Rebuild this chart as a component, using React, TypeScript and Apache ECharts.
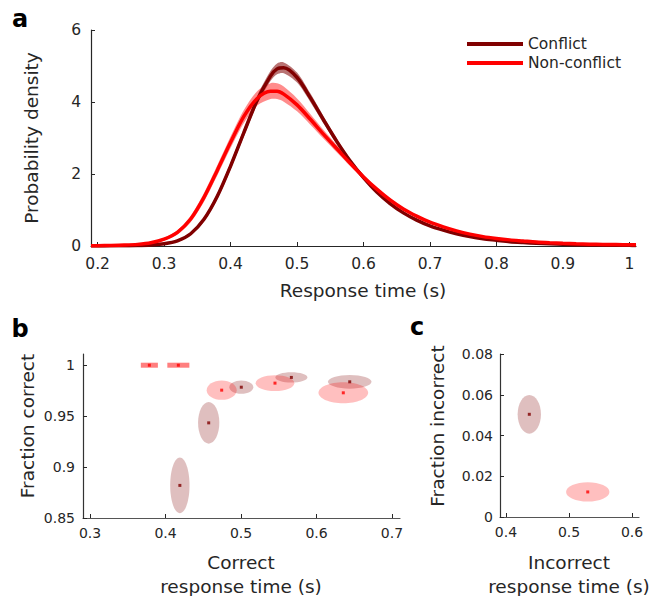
import React, { useEffect, useRef } from "react";
import * as echarts from "echarts";

// ---------- Panel a: response-time densities ----------
const rtGrid = [
  0.19, 0.2, 0.22, 0.24, 0.26, 0.28, 0.3, 0.32, 0.34, 0.36, 0.38, 0.4, 0.42, 0.44, 0.46, 0.47,
  0.48, 0.5, 0.52, 0.54, 0.56, 0.58, 0.6, 0.62, 0.64, 0.66, 0.68, 0.7, 0.72, 0.74, 0.76, 0.78,
  0.8, 0.82, 0.84, 0.86, 0.88, 0.9, 0.92, 0.94, 0.96, 0.98, 1.0, 1.01,
];
const conflictDensity = [
  0, 0.002, 0.004, 0.008, 0.015, 0.03, 0.06, 0.14, 0.34, 0.74, 1.38, 2.22, 3.15, 4.05, 4.72, 4.92,
  4.95, 4.68, 4.12, 3.5, 2.9, 2.36, 1.9, 1.5, 1.18, 0.92, 0.72, 0.56, 0.44, 0.34, 0.26, 0.2,
  0.16, 0.12, 0.095, 0.075, 0.06, 0.047, 0.037, 0.03, 0.025, 0.021, 0.018, 0.016,
];
const nonConflictDensity = [
  0.005, 0.01, 0.015, 0.025, 0.045, 0.09, 0.19, 0.38, 0.75, 1.35, 2.1, 2.88, 3.6, 4.1, 4.3, 4.3,
  4.22, 3.92, 3.52, 3.1, 2.7, 2.3, 1.92, 1.58, 1.28, 1.03, 0.83, 0.66, 0.53, 0.42, 0.33, 0.26,
  0.21, 0.17, 0.14, 0.11, 0.09, 0.075, 0.062, 0.052, 0.045, 0.04, 0.035, 0.033,
];
const conflictBandHalf = [
  0.002, 0.002, 0.003, 0.004, 0.006, 0.01, 0.015, 0.025, 0.04, 0.06, 0.08, 0.1, 0.11, 0.12, 0.14, 0.15,
  0.15, 0.14, 0.12, 0.1, 0.08, 0.06, 0.05, 0.04, 0.035, 0.03, 0.03, 0.025, 0.025, 0.02, 0.02, 0.02,
  0.015, 0.015, 0.015, 0.01, 0.01, 0.01, 0.01, 0.01, 0.01, 0.01, 0.01, 0.01,
];
const nonConflictBandHalf = [
  0.005, 0.005, 0.008, 0.01, 0.015, 0.025, 0.04, 0.06, 0.09, 0.12, 0.14, 0.16, 0.18, 0.2, 0.22, 0.22,
  0.21, 0.18, 0.15, 0.12, 0.1, 0.08, 0.06, 0.05, 0.04, 0.035, 0.03, 0.03, 0.03, 0.025, 0.025, 0.02,
  0.02, 0.02, 0.02, 0.015, 0.015, 0.015, 0.015, 0.015, 0.015, 0.015, 0.015, 0.015,
];
const aTicksX = [0.2, 0.3, 0.4, 0.5, 0.6, 0.7, 0.8, 0.9, 1];
const aTicksY = [0, 2, 4, 6];

// ---------- Panel b: correct trials [rt, fraction, rtHalfWidth, fracHalfWidth] ----------
const conflictCorrect = [
  [0.419, 0.882, 0.0128, 0.0273],
  [0.4572, 0.9434, 0.0141, 0.0204],
  [0.5004, 0.9784, 0.0159, 0.0065],
  [0.5667, 0.988, 0.0212, 0.005],
  [0.644, 0.9837, 0.0289, 0.0067],
];
const nonConflictCorrect = [
  [0.3786, 1.0, 0.0113, 0],
  [0.417, 1.0, 0.0146, 0],
  [0.4744, 0.9755, 0.0199, 0.0095],
  [0.545, 0.9824, 0.0256, 0.0077],
  [0.6355, 0.9729, 0.0329, 0.0103],
];
const bTicksX = [0.3, 0.4, 0.5, 0.6, 0.7];
const bTicksY = [0.85, 0.9, 0.95, 1];

// ---------- Panel c: incorrect trials ----------
const conflictIncorrect = [[0.437, 0.0504, 0.0185, 0.0095]];
const nonConflictIncorrect = [[0.5297, 0.0123, 0.0344, 0.0047]];
const cTicksX = [0.4, 0.5, 0.6];
const cTicksY = [0, 0.02, 0.04, 0.06, 0.08];

const DARK = "#800000";
const RED = "#ff0000";
const FONT = "DejaVu Sans";
const INK = "#262626";

const fmt = (v: number) => String(parseFloat(Number(v).toFixed(3)));

function axis(
  gridIndex: number,
  min: number,
  max: number,
  ticks: number[],
  fontSize: number,
  margin: number,
  lineColor: string
) {
  return {
    type: "value",
    gridIndex,
    min,
    max,
    axisLine: { show: true, onZero: false, lineStyle: { color: lineColor, width: 1.2 } },
    axisTick: { show: true, inside: true, length: 4, customValues: ticks, lineStyle: { color: INK } },
    axisLabel: {
      color: INK,
      fontSize,
      fontFamily: FONT,
      margin,
      customValues: ticks,
      formatter: fmt,
    },
    splitLine: { show: false },
  };
}

function ellipseSeries(name: string, data: number[][], idx: number, fill: string, barFill: string) {
  return {
    type: "custom",
    name,
    xAxisIndex: idx,
    yAxisIndex: idx,
    data,
    encode: { x: 0, y: 1 },
    silent: true,
    renderItem: (params: any, api: any) => {
      const x = api.value(0);
      const y = api.value(1);
      const xr = api.value(2);
      const yr = api.value(3);
      const c = api.coord([x, y]);
      const p = api.coord([x + xr, y + yr]);
      const rx = Math.abs(p[0] - c[0]);
      const ry = Math.abs(c[1] - p[1]);
      if (yr === 0) {
        return {
          type: "rect",
          shape: { x: c[0] - rx, y: c[1] - 2.5, width: rx * 2, height: 5 },
          style: { fill: barFill },
        };
      }
      return {
        type: "ellipse",
        shape: { cx: c[0], cy: c[1], rx, ry },
        style: { fill },
      };
    },
    z: 2,
  };
}

function dotSeries(data: number[][], idx: number, color: string) {
  return {
    type: "scatter",
    xAxisIndex: idx,
    yAxisIndex: idx,
    data: data.map((d) => [d[0], d[1]]),
    symbol: "rect",
    symbolSize: 3,
    itemStyle: { color },
    silent: true,
    z: 5,
  };
}

function bandSeries(values: number[], half: number[], color: string) {
  return {
    type: "custom",
    xAxisIndex: 0,
    yAxisIndex: 0,
    data: [[rtGrid[0], values[0]]],
    encode: { x: 0, y: 1 },
    silent: true,
    z: 1,
    renderItem: (params: any, api: any) => {
      const upper = rtGrid.map((x, i) => api.coord([x, values[i] + half[i]]));
      const lower = rtGrid.map((x, i) => api.coord([x, Math.max(0, values[i] - half[i])])).reverse();
      return {
        type: "polygon",
        shape: { points: upper.concat(lower), smooth: 0.3 },
        style: { fill: color },
      };
    },
  };
}

export default function App() {
  const ref = useRef<HTMLDivElement>(null);
  useEffect(() => {
    const chart = echarts.init(ref.current!, null, { renderer: "svg" });
    const titleStyle = { fontSize: 18.5, fontFamily: FONT, fill: INK };
    const option: any = {
      animation: false,
      backgroundColor: "#ffffff",
      grid: [
        { left: 91, top: 30, width: 545, height: 216 },
        { left: 83, top: 354, width: 317, height: 164 },
        { left: 500, top: 354, width: 139, height: 163 },
      ],
      xAxis: [
        axis(0, 0.19, 1.01, aTicksX, 15.5, 10, INK),
        axis(1, 0.2907, 0.7106, bTicksX, 14, 8, "#555555"),
        axis(2, 0.3905, 0.611, cTicksX, 14, 8, "#555555"),
      ],
      yAxis: [
        axis(0, 0, 6, aTicksY, 15.5, 10, INK),
        axis(1, 0.85, 1.011, bTicksY, 14, 8, "#333333"),
        axis(2, 0, 0.08, cTicksY, 14, 7, "#333333"),
      ],
      legend: {
        data: ["Conflict", "Non-conflict"],
        orient: "vertical",
        left: 467,
        top: 36,
        padding: 0,
        itemWidth: 56,
        itemHeight: 4,
        itemGap: 3,
        icon: "rect",
        textStyle: { fontSize: 15.5, color: INK, fontFamily: FONT },
        selectedMode: false,
      },
      series: [
        bandSeries(conflictDensity, conflictBandHalf, "rgba(128,0,0,0.55)"),
        bandSeries(nonConflictDensity, nonConflictBandHalf, "rgba(255,0,0,0.45)"),
        {
          type: "line",
          name: "Conflict",
          xAxisIndex: 0,
          yAxisIndex: 0,
          data: rtGrid.map((x, i) => [x, conflictDensity[i]]),
          smooth: 0.3,
          showSymbol: false,
          color: DARK,
          lineStyle: { color: DARK, width: 3.5 },
          z: 3,
        },
        {
          type: "line",
          name: "Non-conflict",
          xAxisIndex: 0,
          yAxisIndex: 0,
          data: rtGrid.map((x, i) => [x, nonConflictDensity[i]]),
          smooth: 0.3,
          showSymbol: false,
          color: RED,
          lineStyle: { color: RED, width: 3.5 },
          z: 4,
        },
        ellipseSeries("cc", conflictCorrect, 1, "rgba(128,0,0,0.25)", "rgba(128,0,0,0.5)"),
        ellipseSeries("nc", nonConflictCorrect, 1, "rgba(255,0,0,0.25)", "rgba(255,0,0,0.5)"),
        dotSeries(conflictCorrect, 1, DARK),
        dotSeries(nonConflictCorrect, 1, RED),
        ellipseSeries("ci", conflictIncorrect, 2, "rgba(128,0,0,0.25)", "rgba(128,0,0,0.5)"),
        ellipseSeries("ni", nonConflictIncorrect, 2, "rgba(255,0,0,0.25)", "rgba(255,0,0,0.5)"),
        dotSeries(conflictIncorrect, 2, DARK),
        dotSeries(nonConflictIncorrect, 2, RED),
      ],
      graphic: [
        { type: "text", x: 20, y: 19, style: { text: "a", fontSize: 24, fontWeight: "bold", fontFamily: FONT, fill: "#000", textAlign: "center", textVerticalAlign: "middle" } },
        { type: "text", x: 20, y: 329, style: { text: "b", fontSize: 24, fontWeight: "bold", fontFamily: FONT, fill: "#000", textAlign: "center", textVerticalAlign: "middle" } },
        { type: "text", x: 417, y: 327, style: { text: "c", fontSize: 24, fontWeight: "bold", fontFamily: FONT, fill: "#000", textAlign: "center", textVerticalAlign: "middle" } },
        { type: "text", x: 31, y: 138, rotation: Math.PI / 2, style: { ...titleStyle, text: "Probability density", textAlign: "center", textVerticalAlign: "middle" } },
        { type: "text", x: 363, y: 290, style: { ...titleStyle, text: "Response time (s)", textAlign: "center", textVerticalAlign: "middle" } },
        { type: "text", x: 27, y: 426, rotation: Math.PI / 2, style: { ...titleStyle, text: "Fraction correct", textAlign: "center", textVerticalAlign: "middle" } },
        { type: "text", x: 241, y: 562, style: { ...titleStyle, text: "Correct", textAlign: "center", textVerticalAlign: "middle" } },
        { type: "text", x: 241, y: 586, style: { ...titleStyle, text: "response time (s)", textAlign: "center", textVerticalAlign: "middle" } },
        { type: "text", x: 437, y: 426, rotation: Math.PI / 2, style: { ...titleStyle, text: "Fraction incorrect", textAlign: "center", textVerticalAlign: "middle" } },
        { type: "text", x: 569, y: 562, style: { ...titleStyle, text: "Incorrect", textAlign: "center", textVerticalAlign: "middle" } },
        { type: "text", x: 569, y: 586, style: { ...titleStyle, text: "response time (s)", textAlign: "center", textVerticalAlign: "middle" } },
      ],
    };
    chart.setOption(option);
    return () => chart.dispose();
  }, []);
  return (
    <div
      ref={ref}
      style={{ position: "fixed", left: 0, top: 0, width: 651, height: 596, background: "#fff" }}
    />
  );
}
